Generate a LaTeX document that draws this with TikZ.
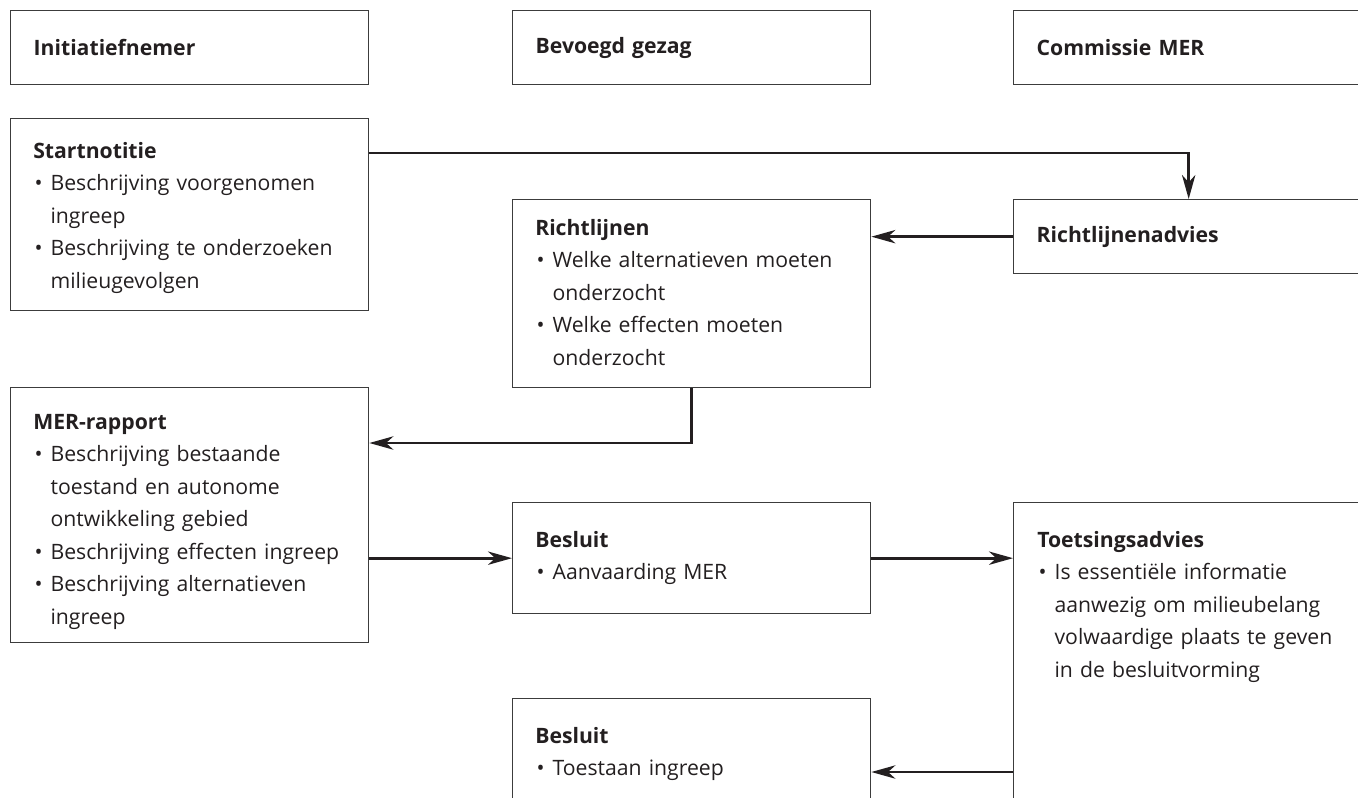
\documentclass[tikz,border=0pt]{standalone}
\usepackage{fontspec}
\setmainfont{Open Sans}[Ligatures=NoCommon]
\usetikzlibrary{arrows.meta,calc}

\definecolor{inkt}{HTML}{231F20}
\definecolor{rand}{HTML}{3C3C3C}

\newcommand{\lettertype}{\fontsize{15.9}{24.4}\selectfont}
\newcommand{\punt}{\makebox[13pt][l]{\hspace{1pt}\textbullet}}
\newcommand{\verder}{\hspace*{13pt}}

\tikzset{
  kader/.style={draw=rand, line width=1pt, anchor=north west, minimum width=268.5pt, inner sep=0pt},
  kop/.style={kader, minimum height=55.5pt, align=left, text width=234pt, inner xsep=17.25pt, font=\lettertype\bfseries},
  smal/.style={minimum width=262.5pt, text width=228pt},
  tekst/.style={anchor=base west, inner sep=0pt, align=left, text width=250pt},
  pijl/.style={draw=inkt, line width=2pt, -{Stealth[length=18pt,width=10pt,inset=5.5pt]}},
}

\begin{document}
\begin{tikzpicture}[x=0.75pt, y=-0.75pt, font=\lettertype, text=inkt]
  \useasboundingbox (0,0) rectangle (1358,797);
  \clip (0,0) rectangle (1358,797);

  % Kolomkoppen
  \node[kop] (init) at (10,10) {Initiatiefnemer};
  \node[kop] (bevoegd) at (512,10) {Bevoegd gezag};
  \node[kop, smal] (cmer) at (1013,10) {Commissie MER};

  % Kaders
  \node[kader, minimum height=144pt] (start) at (10,118) {};
  \node[kop, smal] (radv) at (1013,199) {Richtlijnenadvies};
  \node[kader, minimum height=141pt] (richt) at (512,199) {};
  \node[kader, minimum height=191.25pt] (mer) at (10,387) {};
  \node[kader, minimum height=83.25pt] (besl1) at (512,502) {};
  \node[kader, smal, minimum height=300pt] (toets) at (1013,502) {};
  \node[kader, minimum height=112.5pt] (besl2) at (512,698) {};

  % Teksten
  \node[tekst] (start-t) at (33,158) {\textbf{Startnotitie}\\
    \punt Beschrijving voorgenomen\\ \verder ingreep\\
    \punt Beschrijving te onderzoeken\\ \verder milieugevolgen};
  \node[tekst] (richt-t) at (535,235) {\textbf{Richtlijnen}\\
    \punt Welke alternatieven moeten\\ \verder onderzocht\\
    \punt Welke effecten moeten\\ \verder onderzocht};
  \node[tekst] (mer-t) at (33,429) {\textbf{MER-rapport}\\
    \punt Beschrijving bestaande\\ \verder toestand en autonome\\ \verder ontwikkeling gebied\\
    \punt Beschrijving effecten ingreep\\
    \punt Beschrijving alternatieven\\ \verder ingreep};
  \node[tekst] (besl1-t) at (535,547) {\textbf{Besluit}\\
    \punt Aanvaarding MER};
  \node[tekst] (toets-t) at (1037,547) {\textbf{Toetsingsadvies}\\
    \punt Is essentiële informatie\\ \verder aanwezig om milieubelang\\
    \verder volwaardige plaats te geven\\ \verder in de besluitvorming};
  \node[tekst] (besl2-t) at (535,743) {\textbf{Besluit}\\
    \punt Toestaan ingreep};

  % Pijlen
  \coordinate (s1) at ($(start.north east)+(0,35)$);
  \draw[pijl] (s1) -| (radv.north);
  \draw[pijl] (radv.west) -- (radv.west -| richt.east);
  \coordinate (m1) at ($(mer.north east)+(0,56)$);
  \draw[pijl] (richt.south) |- (m1);
  \draw[pijl] (mer.east |- besl1.west) -- (besl1.west);
  \draw[pijl] (besl1.east) -- (besl1.east -| toets.west);
  \coordinate (t1) at ($(toets.north west)+(0,270)$);
  \draw[pijl] (t1) -- (t1 -| besl2.east);
\end{tikzpicture}
\end{document}
